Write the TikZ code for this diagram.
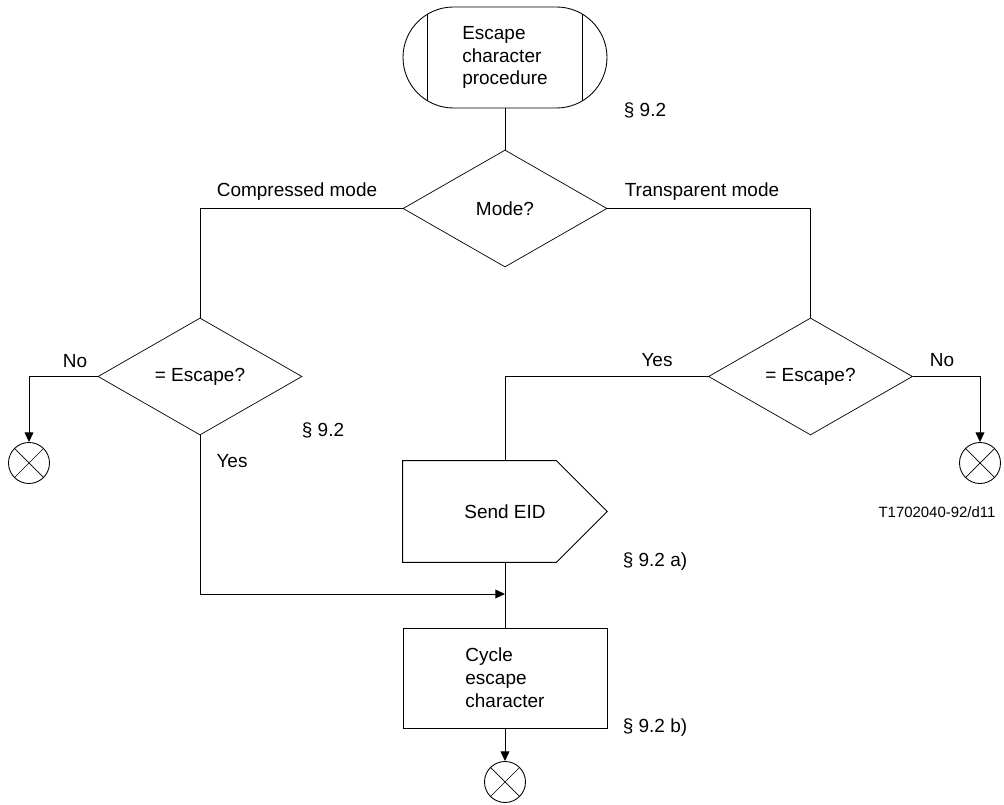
\documentclass[tikz,border=0pt]{standalone}
\usepackage{fontspec}
\setmainfont{Liberation Sans}
\usetikzlibrary{calc,arrows.meta,shapes.geometric}

\tikzset{
  decision/.style={diamond, draw, line width=0.4pt, minimum width=4.08cm, minimum height=2.34cm, inner sep=0pt},
  task/.style={rectangle, draw, line width=0.5pt, minimum width=4.08cm, minimum height=2.0cm, align=left},
  stopper/.style={circle, draw, line width=0.5pt, minimum size=0.82cm, inner sep=0pt,
    path picture={\draw[line width=0.4pt] (path picture bounding box.north west) -- (path picture bounding box.south east)
      (path picture bounding box.north east) -- (path picture bounding box.south west);}},
  flow/.style={line width=0.5pt},
  arrowflow/.style={line width=0.5pt, -{Triangle[length=5.5pt,width=5pt]}}
}

\begin{document}
\begin{tikzpicture}[font=\fontsize{10.8}{13}\selectfont]
		%%%%% START %%%%%
		\useasboundingbox (0, 0) rectangle (20.08, 16.10);
		
		% start terminal
		\node[draw, line width=0.5pt, rounded corners=1.01cm, minimum width=4.08cm, minimum height=2.02cm, align=left] (start) at (10.10, 14.95) {Escape\\character\\procedure};
		\draw[flow] ($(start.west)+(0.49, 0.866)$) -- ($(start.west)+(0.49, -0.866)$);
		\draw[flow] ($(start.east)+(-0.50, 0.866)$) -- ($(start.east)+(-0.50, -0.866)$);
		
		% decisions
		\node[decision] (mode) at (10.10, 11.93) {Mode?};
		\node[decision] (lesc) at (4.00, 8.57) {= Escape?};
		\node[decision] (resc) at (16.21, 8.57) {= Escape?};
		
		% send EID
		\node[minimum width=4.08cm, minimum height=2.02cm] (send) at (10.10, 5.87) {Send EID};
		\draw[flow] (send.north west) -- ($(send.north east)+(-1.02, 0)$) -- (send.east) -- ($(send.south east)+(-1.02, 0)$) -- (send.south west) -- cycle;
		
		\node[task] (cycle) at (10.10, 2.54) {Cycle\\escape\\character};
		
		% ends
		\node[stopper] (lstop) at (0.58, 6.84) {};
		\node[stopper] (rstop) at (19.60, 6.84) {};
		\node[stopper] (bstop) at (10.10, 0.46) {};
		
		\coordinate (merge) at (10.10, 4.22);
		
		% connectors
		\draw[flow] (start.south) -- (mode.north);
		\draw[flow] (mode.west) -| (lesc.north);
		\draw[flow] (mode.east) -| (resc.north);
		\draw[arrowflow] (lesc.west) -| (lstop.north);
		\draw[arrowflow] (resc.east) -| (rstop.north);
		\draw[flow] (resc.west) -| (send.north);
		\draw[flow] (send.south) -- (cycle.north);
		\draw[arrowflow] (lesc.south) |- (merge);
		\draw[arrowflow] (cycle.south) -- (bstop.north);
		
		% labels
		\node (cmode) at (5.94, 12.26) {Compressed mode};
		\node (tmode) at (14.04, 12.26) {Transparent mode};
		\node (lno) at (1.50, 8.88) {No};
		\node (lyes) at (4.64, 6.88) {Yes};
		\node (ryes) at (13.14, 8.90) {Yes};
		\node (rno) at (18.84, 8.90) {No};
		\node (secstart) at (12.90, 13.90) {§ 9.2};
		\node (secesc) at (6.46, 7.50) {§ 9.2};
		\node (secsend) at (13.10, 4.86) {§ 9.2 a)};
		\node (seccycle) at (13.10, 1.54) {§ 9.2 b)};
		\node[font=\fontsize{8.5}{10}\selectfont] (tag) at (18.74, 5.86) {T1702040-92/d11};
		
		%%%%% END %%%%%
\end{tikzpicture}
\end{document}
